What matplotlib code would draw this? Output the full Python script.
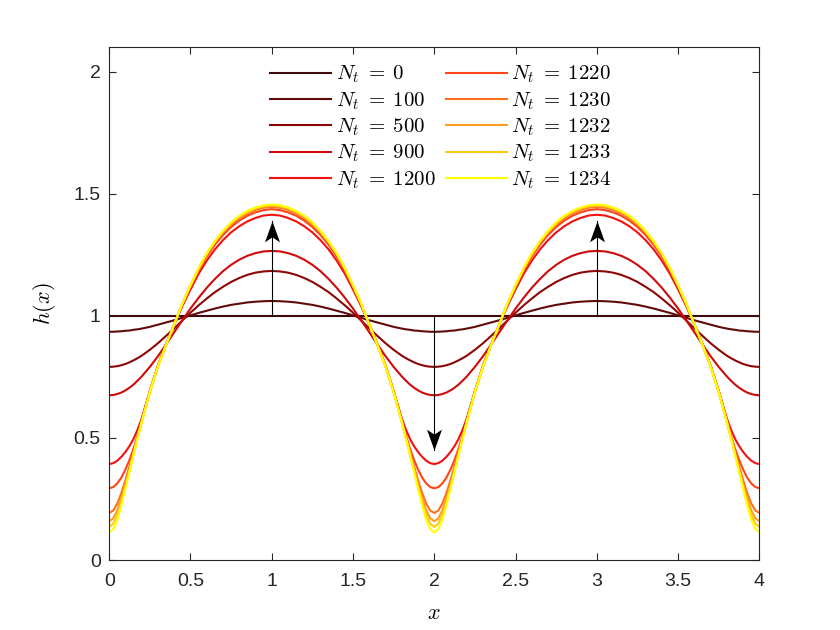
import numpy as np
import matplotlib
matplotlib.use("Agg")
import matplotlib.pyplot as plt
from matplotlib.path import Path

plt.rcParams["font.family"] = ["Liberation Sans", "DejaVu Sans"]
plt.rcParams["mathtext.fontset"] = "cm"

# film height read off the picture on one half period, x = 0 .. 1
# (the profiles are symmetric and repeat with period 2, so the rest is mirrored)
x_half = np.array([0, 0.025, 0.05, 0.075, 0.1, 0.125, 0.15, 0.175, 0.2, 0.25, 0.3,
                   0.35, 0.4, 0.45, 0.5, 0.55, 0.6, 0.65, 0.7, 0.75, 0.8, 0.85,
                   0.9, 0.95, 1.0])

steps = [0, 100, 500, 900, 1200, 1220, 1230, 1232, 1233, 1234]

h_0 = [1.0] * 25
h_100 = [0.935, 0.935, 0.936, 0.937, 0.939, 0.940, 0.943, 0.945, 0.948, 0.955, 0.964,
         0.973, 0.982, 0.992, 1.002, 1.012, 1.021, 1.030, 1.038, 1.045, 1.050, 1.055,
         1.058, 1.060, 1.061]
h_500 = [0.791, 0.792, 0.794, 0.798, 0.803, 0.810, 0.818, 0.827, 0.837, 0.861, 0.888,
         0.918, 0.949, 0.981, 1.013, 1.043, 1.071, 1.097, 1.119, 1.139, 1.155, 1.168,
         1.177, 1.182, 1.184]
h_900 = [0.675, 0.676, 0.680, 0.686, 0.695, 0.706, 0.719, 0.735, 0.752, 0.791, 0.835,
         0.883, 0.933, 0.982, 1.030, 1.074, 1.115, 1.151, 1.183, 1.209, 1.230, 1.246,
         1.257, 1.264, 1.266]
h_1200 = [0.393, 0.397, 0.407, 0.423, 0.443, 0.467, 0.497, 0.535, 0.580, 0.693, 0.798,
          0.885, 0.965, 1.040, 1.108, 1.172, 1.226, 1.272, 1.310, 1.342, 1.367, 1.387,
          1.401, 1.411, 1.414]
h_1220 = [0.294, 0.299, 0.314, 0.338, 0.371, 0.411, 0.457, 0.510, 0.572, 0.690, 0.795,
          0.883, 0.965, 1.046, 1.118, 1.185, 1.243, 1.291, 1.331, 1.364, 1.390, 1.410,
          1.424, 1.433, 1.437]
h_1230 = [0.193, 0.203, 0.232, 0.275, 0.327, 0.385, 0.446, 0.508, 0.570, 0.689, 0.794,
          0.882, 0.965, 1.049, 1.122, 1.190, 1.250, 1.299, 1.340, 1.374, 1.400, 1.420,
          1.434, 1.443, 1.446]
h_1232 = [0.159, 0.171, 0.204, 0.253, 0.310, 0.373, 0.439, 0.503, 0.567, 0.688, 0.793,
          0.881, 0.965, 1.050, 1.124, 1.193, 1.253, 1.302, 1.344, 1.378, 1.404, 1.424,
          1.438, 1.447, 1.450]
h_1233 = [0.136, 0.149, 0.184, 0.238, 0.300, 0.367, 0.435, 0.501, 0.566, 0.688, 0.793,
          0.881, 0.965, 1.050, 1.125, 1.194, 1.254, 1.304, 1.346, 1.380, 1.407, 1.427,
          1.441, 1.450, 1.453]
h_1234 = [0.113, 0.127, 0.165, 0.225, 0.292, 0.362, 0.432, 0.499, 0.565, 0.688, 0.793,
          0.881, 0.965, 1.051, 1.126, 1.196, 1.256, 1.306, 1.348, 1.383, 1.410, 1.430,
          1.444, 1.453, 1.456]

profiles = [h_0, h_100, h_500, h_900, h_1200, h_1220, h_1230, h_1232, h_1233, h_1234]

colors = ["#3d0b0b", "#620a0a", "#8c0606", "#cf0a0a", "#f51010",
          "#ff4418", "#ff6e1c", "#ff9c22", "#ffcb12", "#ffff00"]

# arrows: x, start height, end height
arrow_x = [1, 2, 3]
arrow_from = [1.0, 1.0, 1.0]
arrow_to = [1.39, 0.45, 1.39]


def full_period(vals):
    v = np.asarray(vals)
    x = np.concatenate([x_half, 2 - x_half[-2::-1], 2 + x_half[1:], 4 - x_half[-2::-1]])
    y = np.concatenate([v, v[-2::-1], v[1:], v[-2::-1]])
    return x, y


fig = plt.figure(figsize=(8.4, 6.3), dpi=100)
ax = fig.add_axes([0.13, 0.111, 0.774, 0.814])

for n, prof, c in zip(steps, profiles, colors):
    xx, yy = full_period(prof)
    ax.plot(xx, yy, color=c, lw=1.5, label=r"$N_t\;=\;%d$" % n)

# concave arrow head, tip at the origin
head = Path([(0, 0), (-0.36, -1.0), (0, -0.76), (0.36, -1.0), (0, 0)],
            [Path.MOVETO, Path.LINETO, Path.LINETO, Path.LINETO, Path.CLOSEPOLY])
head_down = Path(head.vertices * [1, -1], head.codes)
for xa, y0, y1 in zip(arrow_x, arrow_from, arrow_to):
    ax.plot([xa, xa], [y0, y1], color="k", lw=0.8)
    mk = head if y1 > y0 else head_down
    ax.plot([xa], [y1], marker=mk, markersize=30, color="k", mec="k", mew=0)

ax.set_xlim(0, 4)
ax.set_ylim(0, 2.1)
ax.set_xticks(np.arange(0, 4.01, 0.5))
ax.set_xticklabels(["0", "0.5", "1", "1.5", "2", "2.5", "3", "3.5", "4"])
ax.set_yticks([0, 0.5, 1, 1.5, 2])
ax.set_yticklabels(["0", "0.5", "1", "1.5", "2"])
ax.tick_params(direction="in", top=True, right=True, length=5, width=0.8,
               labelsize=14, colors="#262626")
ax.tick_params(axis="x", pad=9)
ax.tick_params(axis="y", pad=6)
for s in ax.spines.values():
    s.set_color("#262626")
    s.set_linewidth(0.8)

ax.set_xlabel(r"$x$", fontsize=16, labelpad=10)
ax.set_ylabel(r"$h(x)$", fontsize=16, labelpad=11)

ax.legend(loc="upper center", bbox_to_anchor=(0.51, 1.0), ncol=2, frameon=False,
          fontsize=15, handlelength=2.95, handletextpad=0.2, columnspacing=0.5,
          labelspacing=0.23, borderaxespad=0.4)

fig.savefig("out.png", dpi=100)
